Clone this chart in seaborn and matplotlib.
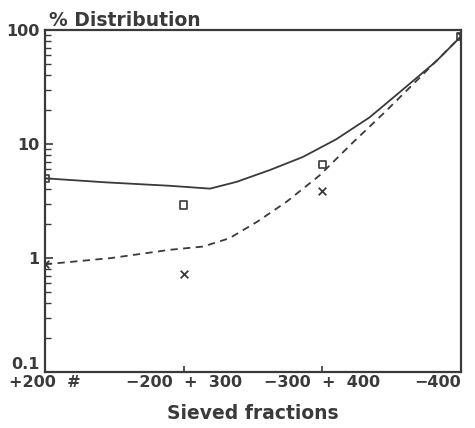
import numpy as np
import pandas as pd
import seaborn as sns
import matplotlib.pyplot as plt
from matplotlib.ticker import LogLocator, NullFormatter, FixedLocator

# sieve fractions on the x axis
fractions = ['+200  #', '\u2212200  +  300', '\u2212300  +  400', '\u2212400']

square_vals = [5.0, 2.9, 6.6, 88]
cross_vals = [0.88, 0.72, 3.85, 88]

# fitted curves, read at several positions along the x axis
solid_x = [0, 0.45, 0.9, 1.19, 1.38, 1.62, 1.86, 2.1, 2.34, 2.58, 2.82, 3.0]
solid_y = [5.0, 4.6, 4.3, 4.06, 4.65, 5.9, 7.7, 11.0, 17.1, 30, 53, 88]
dash_x = [0, 0.48, 0.9, 1.14, 1.33, 1.53, 1.74, 1.98, 2.22, 2.46, 2.7, 3.0]
dash_y = [0.88, 1.0, 1.18, 1.26, 1.49, 2.08, 3.1, 5.3, 10.3, 19.5, 38, 88]

sns.set_style("ticks")
plt.rcParams['font.family'] = ['DejaVu Sans']
ink = '#3a3a3a'

fig = plt.figure(figsize=(4.75, 4.28), dpi=100)
ax = fig.add_axes([45/475, 1-372/428, 416/475, 342/428])

solid = pd.DataFrame({'x': solid_x, 'y': solid_y})
dash = pd.DataFrame({'x': dash_x, 'y': dash_y})
pts = pd.DataFrame({'x': range(len(fractions)), 'sq': square_vals, 'cr': cross_vals})

sns.lineplot(data=solid, x='x', y='y', ax=ax, color=ink, lw=1.3, sort=False)
sns.lineplot(data=dash, x='x', y='y', ax=ax, color=ink, lw=1.3, sort=False,
             linestyle=(0, (4, 3)))
sns.scatterplot(data=pts, x='x', y='sq', ax=ax, marker='s', s=30,
                facecolor='none', edgecolor=ink, linewidth=1.2, zorder=5)
sns.scatterplot(data=pts, x='x', y='cr', ax=ax, marker='x', s=30,
                color=ink, linewidth=1.3, zorder=5)

ax.set_yscale('log')
ax.set_ylim(0.1, 100)
ax.set_xlim(0, 3)

ax.yaxis.set_major_locator(FixedLocator([0.1, 1, 10, 100]))
ax.set_yticklabels(['0.1', '1', '10', '100'])
ax.yaxis.set_minor_locator(LogLocator(base=10, subs=np.arange(2, 10)))
ax.yaxis.set_minor_formatter(NullFormatter())
ax.tick_params(axis='y', which='major', direction='in', length=6, width=1.2,
               colors=ink, labelsize=11.5, pad=4)
ax.tick_params(axis='y', which='minor', direction='in', length=4, width=1.0,
               colors=ink)

ax.set_xticks(range(len(fractions)))
ax.set_xticklabels(fractions, fontsize=11.5, fontweight='bold', color=ink)
ax.tick_params(axis='x', direction='in', length=4, width=1.2, colors=ink, pad=2)
labels = ax.get_xticklabels()
labels[-1].set_ha('right')

for t in ax.get_yticklabels():
    t.set_fontweight('bold')
ax.get_yticklabels()[0].set_va('bottom')

for s in ax.spines.values():
    s.set_color(ink)
    s.set_linewidth(1.6)

ax.set_xlabel('Sieved fractions', fontsize=13.5, fontweight='bold', color=ink,
              labelpad=10)
ax.set_ylabel('')
ax.text(0.01, 1.0, '% Distribution', transform=ax.transAxes, fontsize=13.5,
        fontweight='bold', color=ink, ha='left', va='bottom')

fig.savefig('out.png', dpi=100)
